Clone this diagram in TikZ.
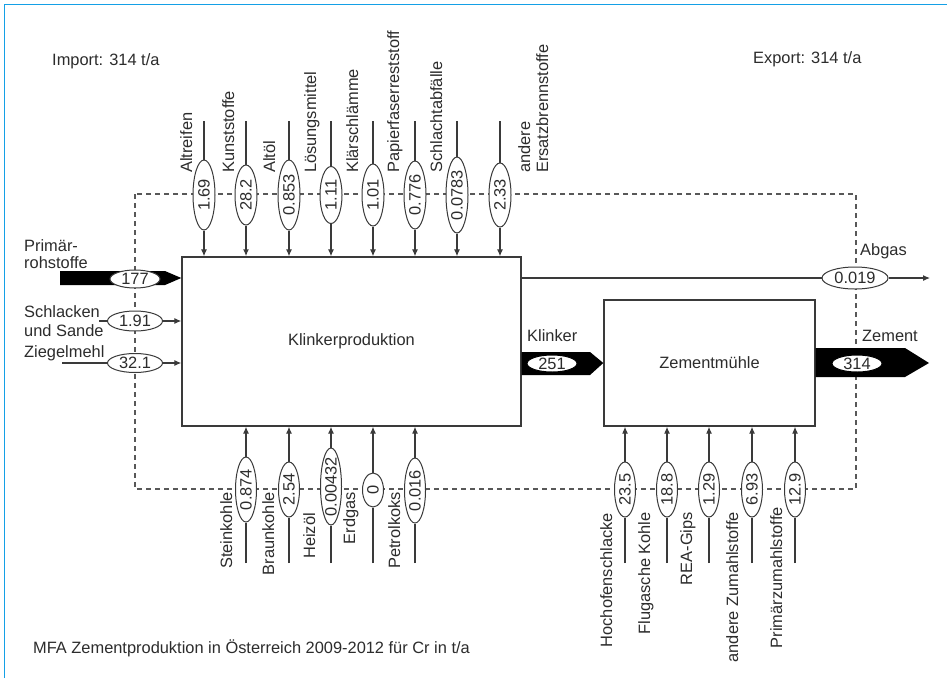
\documentclass[tikz,border=0pt]{standalone}
\usepackage{fontspec}
\setmainfont{Liberation Sans}
\usetikzlibrary{shapes.geometric,arrows.meta,calc}
\definecolor{ln}{HTML}{3A3A3A}
\definecolor{txt}{HTML}{2C2C2C}
\definecolor{frm}{RGB}{20,160,230}
\begin{document}
\begin{tikzpicture}[x=1pt,y=-1pt,
  every node/.style={font=\fontsize{16.4}{18}\selectfont, text=txt},
  box/.style={draw=ln, line width=1.4pt, rectangle, inner sep=0pt},
  v/.style={ellipse, draw=ln, line width=1pt, fill=white, inner xsep=-6pt, inner ysep=-3pt, rotate=90, minimum height=22pt},
  h/.style={ellipse, draw=ln, line width=1pt, fill=white, inner xsep=-6pt, inner ysep=-3pt},
  flow/.style={draw=ln, line width=1.1pt, -{Latex[length=7pt,width=6pt]}},
  lbl/.style={inner sep=0pt},
  tl/.style={lbl, rotate=90, anchor=base west},
  bl/.style={lbl, rotate=90, anchor=base east},
  bound/.style={draw=ln!85, line width=1.1pt, dash pattern=on 5pt off 4pt},
  bigflow/.style={fill=black}]
\useasboundingbox (0,0) rectangle (947,678);
\fill[white] (0,0) rectangle (947,678);
\draw[frm, line width=1.5pt] (4.5,678) -- (4.5,4.5) -- (947,4.5);

% processes
\node[box, minimum width=339pt, minimum height=169pt] (kp) at (351.5,341.5) {Klinkerproduktion};
\node[box, minimum width=211pt, minimum height=126pt] (zm) at (709.5,363) {Zementmühle};

% system boundary
\draw[bound] (135,194) rectangle (856,489);

% big flows
\coordinate (pr0) at (60,278);
\coordinate (zout) at (929,363);
\fill[bigflow] (60,271) -- (165,271) -- (kp.west |- pr0) -- (165,285) -- (60,285) -- cycle;
\fill[bigflow] (kp.east |- 0,352) -- (590,352) -- (zm.west) -- (590,375) -- (kp.east |- 0,375) -- cycle;
\fill[bigflow] (zm.east |- 0,348) -- (905,348) -- (zout) -- (905,377) -- (zm.east |- 0,377) -- cycle;

% top inputs
\foreach \n/\x/\v/\L/\w in {1/204/1.69/70/1.1, 2/246/28.2/60/2.2, 3/289/0.853/70/1.1, 4/331/1.11/57/1.1, 5/373/1.01/62/1.1, 6/415/0.776/68/1.1, 7/457/0.0783/76/1.1, 8/500/2.33/64/1.1} {
  \coordinate (ts\n) at (\x,121);
  \node[v, minimum width=\L pt] (te\n) at (\x,195) {\v};
  \draw[flow, line width=\w pt] (ts\n) -- (te\n) -- (te\n |- kp.north);
}

% bottom inputs Klinkerproduktion
\foreach \n/\x/\y/\v/\L in {1/246/489.5/0.874/65, 2/289/489.5/2.54/55, 3/331/486.5/0.00432/77, 4/373/490/0/34, 5/415/490.5/0.016/65} {
  \coordinate (bs\n) at (\x,563);
  \node[v, minimum width=\L pt, minimum height=21pt] (be\n) at (\x,\y) {\v};
  \draw[flow] (bs\n) -- (be\n) -- (be\n |- kp.south);
}

% bottom inputs Zementmuehle
\foreach \n/\x/\v in {1/625/23.5, 2/667/18.8, 3/709/1.29, 4/752/6.93, 5/795/12.9} {
  \coordinate (zs\n) at (\x,563);
  \node[v, minimum width=55pt, minimum height=21pt] (ze\n) at (\x,489.5) {\v};
  \draw[flow] (zs\n) -- (ze\n) -- (ze\n |- zm.south);
}

% left inputs
\node[h, minimum width=50pt, minimum height=18pt] (e177) at (135,279) {177};
\node[h, minimum width=55pt, minimum height=20pt] (e191) at (135,321) {1.91};
\node[h, minimum width=55pt, minimum height=19pt] (e321) at (135,363) {32.1};
\coordinate (s191) at (99,321);
\coordinate (s321) at (62,363);
\draw[flow] (s191) -- (e191) -- (e191 -| kp.west);
\draw[flow] (s321) -- (e321) -- (e321 -| kp.west);

% outputs
\node[h, minimum width=66pt, minimum height=22pt] (e019) at (855,278) {0.019};
\coordinate (abg) at (930,278);
\draw[flow] (kp.east |- e019) -- (e019) -- (abg);
\node[h, draw=black, minimum width=50pt, minimum height=17pt] (e251) at (552,363.5) {251};
\node[h, draw=black, minimum width=50pt, minimum height=17pt] (e314) at (857,363.5) {314};

% labels top
\node[tl] (lt1) at (192,173) {Altreifen};
\node[tl] (lt2) at (234,173) {Kunststoffe};
\node[tl] (lt3) at (275,173) {Altöl};
\node[tl] (lt4) at (316,173) {Lösungsmittel};
\node[tl] (lt5) at (358,173) {Klärschlämme};
\node[tl] (lt6) at (399,173) {Papierfaserreststoff};
\node[tl] (lt7) at (442,173) {Schlachtabfälle};
\node[tl] (lt8a) at (530,173) {andere};
\node[tl] (lt8b) at (548,173) {Ersatzbrennstoffe};

% labels bottom
\node[bl] (lb1) at (232,492) {Steinkohle};
\node[bl] (lb2) at (274,492) {Braunkohle};
\node[bl] (lb3) at (315,513) {Heizöl};
\node[bl] (lb4) at (355,492) {Erdgas};
\node[bl] (lb5) at (400,492) {Petrolkoks};
\node[bl] (lz1) at (612,513) {Hochofenschlacke};
\node[bl] (lz2) at (650,512) {Flugasche Kohle};
\node[bl] (lz3) at (692,512) {REA-Gips};
\node[bl] (lz4) at (738,512) {andere Zumahlstoffe};
\node[bl] (lz5) at (782,507) {Primärzumahlstoffe};

% labels left / right
\node[lbl, anchor=base west] (lp1) at (24,251) {Primär-};
\node[lbl, anchor=base west] (lp2) at (24,268) {rohstoffe};
\node[lbl, anchor=base west] (ls1) at (24,317) {Schlacken};
\node[lbl, anchor=base west] (ls2) at (24,336) {und Sande};
\node[lbl, anchor=base west] (lzm) at (24,357) {Ziegelmehl};
\node[lbl, anchor=base west] (lab) at (860,255) {Abgas};
\node[lbl, anchor=base west] (lkl) at (527,341) {Klinker};
\node[lbl, anchor=base west] (lze) at (862,341) {Zement};

\node[lbl, anchor=base west] (imp) at (52,65) {Import: 314 t/a};
\node[lbl, anchor=base west] (exp) at (753,63) {Export: 314 t/a};
\node[lbl, anchor=base west] (cap) at (33,653) {MFA Zementproduktion in Österreich 2009-2012 für Cr in t/a};
\end{tikzpicture}
\end{document}
